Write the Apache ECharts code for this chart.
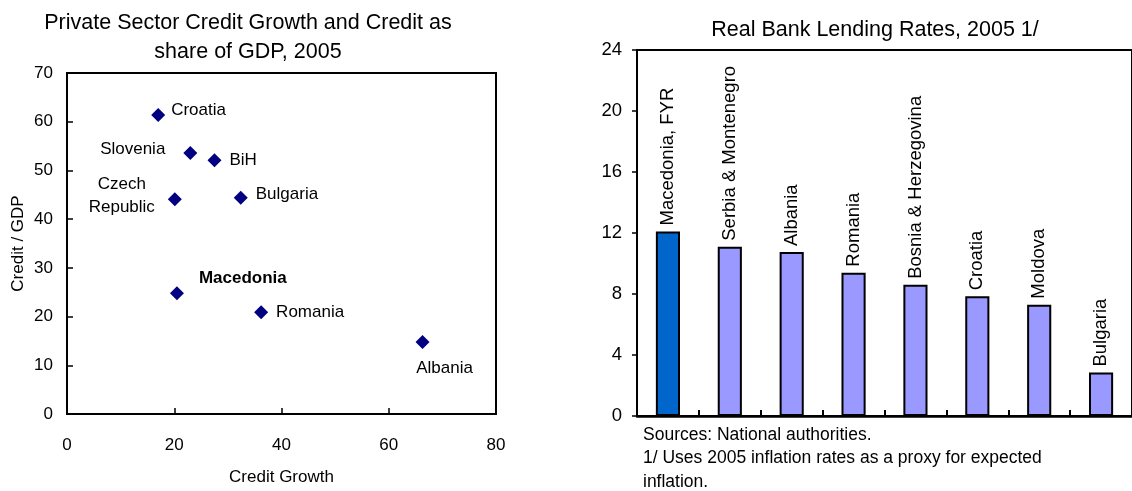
<!DOCTYPE html>
<html>
<head>
<meta charset="utf-8">
<script src="https://cdn.jsdelivr.net/npm/echarts@6/dist/echarts.min.js"></script>
<style>
  html, body { margin: 0; padding: 0; background: #fff; }
  #chart { width: 1132px; height: 491px; }
</style>
</head>
<body>
<div id="chart"></div>
<script>
'use strict';

// Left panel: credit growth vs credit / GDP
const countries = ['Croatia', 'Slovenia', 'BiH', 'Czech\nRepublic', 'Bulgaria', 'Macedonia', 'Romania', 'Albania'];
const creditGrowth = [17.0, 23.0, 27.5, 20.1, 32.4, 20.5, 36.2, 66.3];
const creditGdp = [61.4, 53.6, 52.1, 44.1, 44.4, 24.8, 20.9, 14.8];

// Right panel: real bank lending rates
const lendCountries = ['Macedonia, FYR', 'Serbia & Montenegro', 'Albania', 'Romania', 'Bosnia & Herzegovina', 'Croatia', 'Moldova', 'Bulgaria'];
const lendRates = [12.1, 11.1, 10.75, 9.4, 8.6, 7.85, 7.3, 2.85];

const FONT = 'Liberation Sans, Arial, sans-serif';

// label placement per point (style only)
const labelStyle = {
  'Croatia': { position: 'right', distance: 6, offset: [0, -5] },
  'Slovenia': { position: 'left', distance: 18, offset: [0, -4] },
  'BiH': { position: 'right', distance: 8, offset: [0, 0] },
  'Czech\nRepublic': { position: 'left', distance: 46, align: 'center', offset: [0, -3], lineHeight: 23 },
  'Bulgaria': { position: 'right', distance: 8, offset: [0, -3] },
  'Macedonia': { position: 'right', distance: 15, offset: [0, -15], fontWeight: 'bold' },
  'Romania': { position: 'right', distance: 8, offset: [0, 0] },
  'Albania': { position: 'bottom', distance: 11, offset: [22, 0] }
};

const scatterData = countries.map(function (c, i) {
  return {
    name: c,
    value: [creditGrowth[i], creditGdp[i]],
    label: labelStyle[c]
  };
});

const barData = lendRates.map(function (v, i) {
  return {
    value: v,
    itemStyle: { color: i === 0 ? '#0066CC' : '#9999FF' }
  };
});

const chart = echarts.init(document.getElementById('chart'));

const option = {
  animation: false,
  textStyle: { fontFamily: FONT, color: '#000' },
  title: [
    {
      text: 'Private Sector Credit Growth and Credit as\nshare of GDP, 2005',
      left: 243,
      textAlign: 'center',
      top: 4,
      textStyle: { fontFamily: FONT, fontSize: 21.5, fontWeight: 'normal', color: '#000', lineHeight: 29 }
    },
    {
      text: 'Real Bank Lending Rates, 2005 1/',
      left: 870,
      textAlign: 'center',
      top: 11,
      textStyle: { fontFamily: FONT, fontSize: 21.5, fontWeight: 'normal', color: '#000', lineHeight: 29 }
    }
  ],
  grid: [
    { left: 67, top: 73, width: 429, height: 343, show: true, borderColor: '#000', borderWidth: 2, backgroundColor: 'transparent' },
    { left: 637, top: 50, width: 496, height: 366, show: true, borderColor: '#000', borderWidth: 2, backgroundColor: 'transparent' }
  ],
  xAxis: [
    {
      gridIndex: 0,
      type: 'value',
      min: 0,
      max: 80,
      interval: 20,
      name: 'Credit Growth',
      nameLocation: 'middle',
      nameGap: 55,
      nameTextStyle: { fontFamily: FONT, fontSize: 17, color: '#000' },
      axisLine: { show: true, lineStyle: { color: '#000', width: 2 } },
      axisTick: { show: true, inside: true, length: 6, lineStyle: { color: '#000', width: 1.5 } },
      axisLabel: { fontFamily: FONT, fontSize: 17, color: '#000', margin: 23 },
      splitLine: { show: false }
    },
    {
      gridIndex: 1,
      type: 'category',
      data: lendCountries,
      axisLine: { show: true, lineStyle: { color: '#000', width: 2.5 } },
      axisTick: { show: true, inside: true, length: 6, interval: 0, alignWithLabel: false, lineStyle: { color: '#000', width: 2 } },
      axisLabel: { show: false },
      splitLine: { show: false }
    }
  ],
  yAxis: [
    {
      gridIndex: 0,
      type: 'value',
      min: 0,
      max: 70,
      interval: 10,
      name: 'Credit / GDP',
      nameLocation: 'middle',
      nameGap: 40,
      nameTextStyle: { fontFamily: FONT, fontSize: 17, color: '#000' },
      axisLine: { show: true, lineStyle: { color: '#000', width: 2 } },
      axisTick: { show: true, inside: true, length: 6, lineStyle: { color: '#000', width: 1.5 } },
      axisLabel: { fontFamily: FONT, fontSize: 17, color: '#000', margin: 14 },
      splitLine: { show: false }
    },
    {
      gridIndex: 1,
      type: 'value',
      min: 0,
      max: 24,
      interval: 4,
      axisLine: { show: true, lineStyle: { color: '#000', width: 2 } },
      axisTick: { show: true, inside: false, length: 5, lineStyle: { color: '#000', width: 1.5 } },
      axisLabel: { fontFamily: FONT, fontSize: 18.5, color: '#000', margin: 15 },
      splitLine: { show: false }
    }
  ],
  series: [
    {
      type: 'scatter',
      xAxisIndex: 0,
      yAxisIndex: 0,
      symbol: 'diamond',
      symbolSize: 14,
      itemStyle: { color: '#000080', opacity: 1 },
      label: {
        show: true,
        formatter: '{b}',
        fontFamily: FONT,
        fontSize: 17,
        color: '#000'
      },
      data: scatterData
    },
    {
      type: 'bar',
      xAxisIndex: 1,
      yAxisIndex: 1,
      barWidth: '39%',
      itemStyle: { borderColor: '#000', borderWidth: 2 },
      label: {
        show: true,
        position: 'top',
        rotate: 90,
        align: 'left',
        verticalAlign: 'middle',
        distance: 6,
        formatter: '{b}',
        fontFamily: FONT,
        fontSize: 18.5,
        color: '#000'
      },
      data: barData
    }
  ],
  graphic: [
    {
      type: 'text',
      left: 643,
      top: 423,
      style: {
        text: 'Sources: National authorities.\n1/ Uses 2005 inflation rates as a proxy for expected\ninflation.',
        fontFamily: FONT,
        fontSize: 17.5,
        lineHeight: 23.5,
        fill: '#000'
      }
    }
  ]
};

chart.setOption(option);
</script>
</body>
</html>
